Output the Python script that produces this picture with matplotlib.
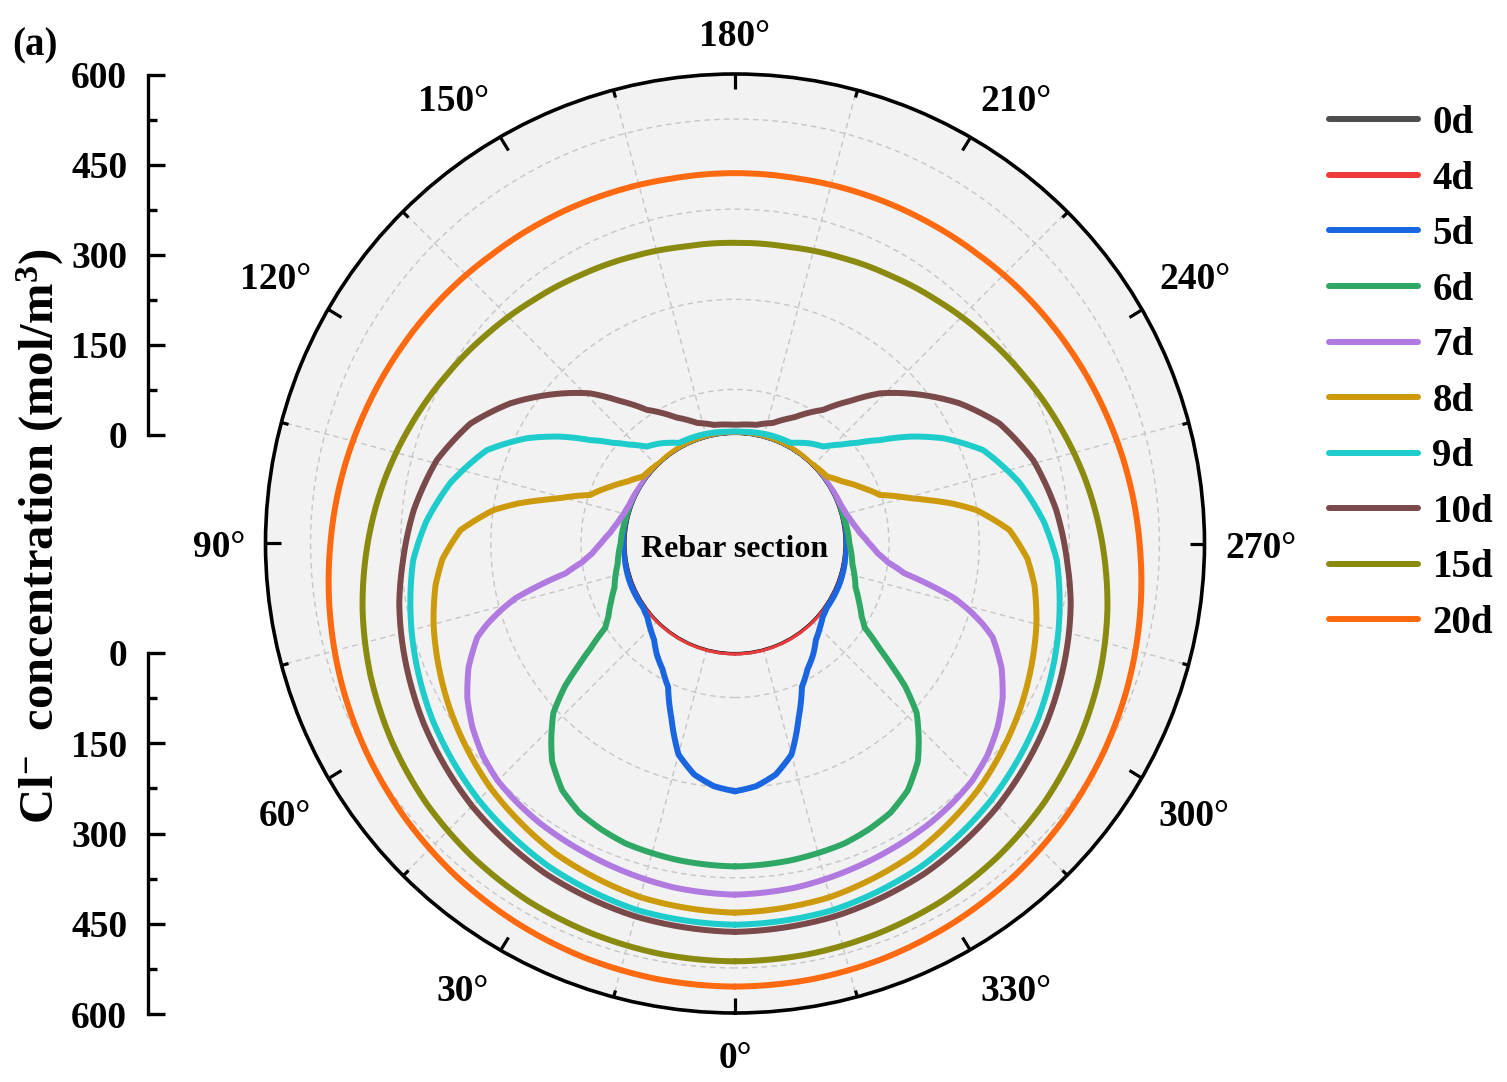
import numpy as np
import matplotlib
matplotlib.use("Agg")
import matplotlib.pyplot as plt
from matplotlib.transforms import ScaledTranslation

plt.rcParams['font.family'] = ['Liberation Serif', 'DejaVu Serif']
plt.rcParams['font.weight'] = 'bold'
plt.rcParams['mathtext.fontset'] = 'custom'
plt.rcParams['mathtext.rm'] = 'Liberation Serif:bold'
plt.rcParams['mathtext.bf'] = 'Liberation Serif:bold'
plt.rcParams['mathtext.default'] = 'rm'

# ---------------- data (half profiles, symmetric about 0-180 deg) ----------------
labels = ['0d', '4d', '5d', '6d', '7d', '8d', '9d', '10d', '15d', '20d']
colors = ['#4d4d4d', '#ee3a3a', '#1a66e0', '#2fa865', '#b07ae0',
          '#cc9a0a', '#1ecccc', '#7a4a4a', '#8a8a0e', '#ff6a10']

ang_0d = [0, 180]
val_0d = [0, 0]

ang_4d = [0, 180]
val_4d = [0, 0]

ang_5d = [0, 5, 10, 15, 20, 25, 30, 35, 40, 45, 50, 55, 60, 70, 80, 90, 100, 180]
val_5d = [231, 224, 209, 182, 128, 82, 60, 45, 28, 18, 9, 5, 5, 5, 4, 2, 0, 0]

ang_6d = [0, 10, 20, 25, 30, 35, 40, 43, 47, 50, 52, 54, 57, 60, 65, 70, 80, 90, 100, 108, 115, 180]
val_6d = [356, 354, 350, 344, 336, 320, 292, 267, 232, 188, 150, 116, 76, 62, 46, 32, 17, 9, 6, 3, 0, 0]

ang_7d = [0, 10, 15, 20, 27, 35, 40, 45, 50, 55, 60, 65, 70, 72, 74, 76, 78, 80, 83, 86, 90, 95,
          100, 105, 110, 120, 130, 140, 180]
val_7d = [403, 400, 397, 394, 390, 386, 382, 377, 367, 352, 333, 308, 275, 252, 225, 195, 150, 105,
          75, 57, 42, 27, 17, 10, 6, 3, 1, 0, 0]

ang_8d = [0, 15, 30, 45, 60, 75, 82, 87, 92.8, 97.9, 100.5, 102.8, 104.5, 108.5, 114.4, 120,
          126, 137, 152, 180]
val_8d = [433, 428, 415, 394, 367, 338, 322, 306, 276, 224, 185, 146, 120, 73, 47, 25,
          8, 2, 3, 1]

ang_9d = [0, 15, 30, 45, 60, 75, 87, 94, 102, 110.6, 116.8, 121.4, 125.5, 129.5, 133, 137.6,
          143, 151, 162, 176, 180]
val_9d = [453, 450, 439, 422, 401, 376, 355, 334, 303, 260, 207, 160, 115, 82, 60, 37,
          27, 10, 8, 5, 5]

ang_10d = [0, 15, 30, 45, 60, 75, 80, 87, 96, 105.6, 114.4, 122, 130.6, 136, 141, 146.6, 155,
           162.5, 170, 180]
val_10d = [465, 461, 452, 437, 417, 394, 386, 372, 356, 334, 302, 259, 202, 166, 124, 85, 50,
           29, 19, 16]

ang_15d = [0, 10, 20, 30, 40, 50, 60, 70, 80, 90, 100, 110, 120, 130, 140, 150, 160, 170, 180]
val_15d = [514, 513, 510, 506, 499, 490, 478, 464, 448, 430, 412, 393, 375, 359, 345, 334, 326,
           320, 319]

ang_20d = [0, 10, 20, 30, 40, 50, 60, 70, 80, 90, 100, 110, 120, 130, 140, 150, 160, 170, 180]
val_20d = [556, 555, 552, 547, 541, 533, 524, 514, 503, 492, 482, 472, 463, 455, 447, 442, 438,
           435, 435]

series_ang = [ang_0d, ang_4d, ang_5d, ang_6d, ang_7d, ang_8d, ang_9d, ang_10d, ang_15d, ang_20d]
series_val = [val_0d, val_4d, val_5d, val_6d, val_7d, val_8d, val_9d, val_10d, val_15d, val_20d]

theta_major = list(range(0, 360, 30))
theta_minor = list(range(15, 360, 30))
r_grid = [75, 225, 375, 525]
conc_ticks = [0, 150, 300, 450, 600]
conc_minor = [75, 225, 375, 525]

# ---------------- figure ----------------
W, H = 1507, 1082
fig = plt.figure(figsize=(W / 100, H / 100), dpi=100)

cx, cy, R = 735.0, 543.5, 469.5
ax = fig.add_axes([(cx - R) / W, (H - cy - R) / H, 2 * R / W, 2 * R / H], projection='polar')
ax.set_theta_zero_location('S')
ax.set_theta_direction(-1)
ax.set_ylim(0, 600)
ax.set_rorigin(-600 * 109.0 / 360.5)
ax.set_facecolor('#f2f2f2')

for name in ('inner', 'start', 'end'):
    if name in ax.spines:
        ax.spines[name].set_visible(False)
ax.spines['polar'].set_linewidth(2.6)

# hole (rebar section) fill
th_hole = np.deg2rad(np.arange(0, 361, 2))
ax.fill(th_hole, np.zeros_like(th_hole), color='#f2f2f2', clip_on=False, zorder=0.2, lw=0)

# angular ticks
ax.set_xticks(np.deg2rad(theta_major))
ax.set_xticklabels([f'{t}°' for t in theta_major])
ax.set_xticks(np.deg2rad(theta_minor), minor=True)
ax.tick_params(axis='x', which='major', direction='in', length=11, width=2.3,
               pad=11, labelsize=27, top=True, bottom=False)
ax.tick_params(axis='x', which='minor', direction='in', length=5.5, width=2.3,
               top=True, bottom=False)
ax.xaxis.grid(False, which='major')
ax.xaxis.grid(True, which='minor', color='#c6c6c6', linestyle=(0, (4, 3)), linewidth=1.0)

# radial grid
ax.set_yticks(r_grid)
ax.set_yticklabels([])
ax.tick_params(axis='y', length=0)
ax.yaxis.grid(True, color='#c6c6c6', linestyle=(0, (4, 3)), linewidth=1.0)

# angle label placement: alignment, distance from the rim (points), fine shift (px right, px down)
label_align = {0: ('center', 'top'), 30: ('right', 'top'), 60: ('right', 'top'),
               90: ('right', 'center'), 120: ('right', 'baseline'), 150: ('right', 'baseline'),
               180: ('center', 'baseline'), 210: ('left', 'baseline'), 240: ('left', 'baseline'),
               270: ('left', 'center'), 300: ('left', 'top'), 330: ('left', 'top')}
label_pad = {0: 9.6, 30: 9.1, 60: 8.6, 90: 7.4, 120: 11, 150: 11.7, 180: 11.7,
             210: 11.7, 240: 11, 270: 7.4, 300: 8.6, 330: 9.1}
label_shift = {0: (0, 5), 30: (0, 5), 60: (1.5, 9.5), 90: (-0.5, 4.5), 120: (4, -7),
               150: (2, -3), 180: (0, -2), 210: (-2, -3), 240: (-4, -7), 270: (0.5, 4.5),
               300: (-1.5, 9.5), 330: (0, 5)}

# curves
lines = []
for a, v, c, lab in zip(series_ang, series_val, colors, labels):
    a = np.asarray(a, float)
    v = np.asarray(v, float)
    th = np.concatenate([a, 360 - a[::-1][1:]])
    rr = np.concatenate([v, v[::-1][1:]])
    ln, = ax.plot(np.deg2rad(th), rr, color=c, lw=4.3, label=lab, solid_capstyle='round', zorder=3)
    ln.get_path()._interpolation_steps = 40
    lines.append(ln)

ax.text(0.5, 0.494, 'Rebar section', transform=ax.transAxes, ha='center', va='center',
        fontsize=23, fontweight='bold', zorder=5)

# left concentration axes
def conc_axis(bottom_px, height_px, invert):
    a2 = fig.add_axes([148 / W, (H - bottom_px) / H, 0.0005, height_px / H])
    a2.patch.set_visible(False)
    for s in ('top', 'right', 'bottom'):
        a2.spines[s].set_visible(False)
    a2.spines['left'].set_linewidth(2.4)
    a2.set_ylim((600, 0) if invert else (0, 600))
    a2.set_yticks(conc_ticks)
    a2.set_yticklabels([str(t) for t in conc_ticks])
    a2.set_yticks(conc_minor, minor=True)
    a2.set_xticks([])
    a2.tick_params(axis='y', which='major', direction='in', length=12, width=2.4, pad=15,
                   labelsize=27)
    a2.tick_params(axis='y', which='minor', direction='in', length=6.5, width=2.4)
    for lb in a2.get_yticklabels():
        lb.set_fontweight('bold')
    return a2

conc_axis(435, 360, False)
conc_axis(1014, 361, True)

fig.text(40 / W, 1 - 536 / H, 'Cl$^{-}$  concentration (mol/m$^{3}$)', rotation=90,
         ha='center', va='center', fontsize=35, fontweight='bold')
fig.text(12 / W, 1 - 46 / H, '(a)', ha='left', va='center', fontsize=28, fontweight='bold')

fig.legend(lines, labels, loc='upper left', bbox_to_anchor=(1329 / W, 1 - 105 / H),
           frameon=False, handlelength=2.3, handletextpad=0.36,
           labelspacing=0.477, borderpad=0, borderaxespad=0,
           prop={'weight': 'bold', 'size': 28})

# final per-tick adjustments of the angle labels
for tk, t in zip(ax.xaxis.get_major_ticks(), theta_major):
    ha, va = label_align[t]
    tk.label1.set_ha(ha)
    tk.label1.set_va(va)
    tk.label1.set_fontweight('bold')
    tk._base_pad = label_pad[t]
    sx, sy = label_shift[t]
    tk.label1.set_transform(tk.label1.get_transform() +
                            ScaledTranslation(sx / 100, -sy / 100, fig.dpi_scale_trans))

fig.savefig('out.png', dpi=100, facecolor='white')
